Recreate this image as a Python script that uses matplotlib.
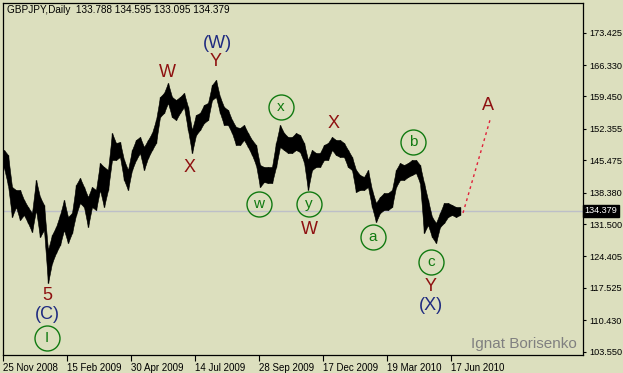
import matplotlib
matplotlib.use("Agg")
import matplotlib.pyplot as plt
import numpy as np

# ---- data (bar groups, ~3.5 daily bars each) ----
highs = [147.73, 146.64, 139.62, 138.97, 138.97, 136.78, 135.24, 133.93, 141.16, 137.43,
         135.68, 125.82, 129.11, 130.86, 133.49, 136.78, 133.05, 133.93, 140.06, 141.60,
         139.62, 137.43, 139.62, 138.97, 144.88, 144.01, 143.35, 151.45, 149.26, 149.48,
         145.54, 143.35, 147.73, 149.92, 150.58, 148.39, 149.92, 151.45, 154.30, 159.34,
         160.22, 162.41, 159.34, 158.68, 159.34, 160.22, 157.15, 152.11, 155.40, 155.84,
         157.59, 158.03, 161.97, 163.07, 159.34, 157.15, 156.49, 154.30, 152.77, 152.55,
         153.21, 151.45, 149.92, 148.83, 144.44, 144.01, 144.01, 144.01, 149.26, 153.21,
         151.45, 150.58, 150.58, 151.45, 151.02, 149.26, 145.54, 147.73, 147.07, 147.07,
         148.83, 149.26, 150.58, 149.92, 149.92, 149.26, 147.73, 146.20, 143.35, 142.25,
         141.82, 143.35, 138.97, 136.12, 137.43, 138.31, 138.31, 138.97, 143.35, 144.88,
         144.44, 144.88, 145.54, 145.54, 144.44, 140.50, 136.78, 133.05, 131.74, 133.93,
         136.12, 136.12, 135.68, 135.24, 135.24]
lows = [143.79, 140.06, 133.05, 135.24, 132.40, 133.49, 131.74, 129.77, 134.59, 128.67,
        130.20, 118.59, 122.98, 125.17, 126.92, 130.20, 127.36, 129.55, 133.49, 136.12,
        135.24, 130.86, 135.24, 134.59, 138.97, 135.24, 138.97, 145.54, 145.54, 146.20,
        141.16, 138.97, 143.35, 145.54, 147.07, 143.35, 145.98, 147.73, 149.26, 154.96,
        155.84, 158.03, 154.96, 154.30, 155.84, 157.15, 152.11, 147.07, 151.02, 152.11,
        153.64, 154.30, 158.68, 159.34, 155.84, 153.21, 153.21, 151.45, 148.83, 148.83,
        149.92, 148.39, 146.64, 144.44, 139.62, 140.72, 140.50, 140.50, 144.01, 148.39,
        147.73, 147.07, 147.07, 147.73, 147.29, 145.10, 138.97, 143.35, 144.01, 144.01,
        145.54, 145.54, 147.73, 146.64, 146.20, 146.20, 144.01, 143.35, 138.53, 138.97,
        138.97, 139.62, 135.24, 131.96, 133.93, 134.59, 134.59, 135.24, 139.62, 141.16,
        141.16, 141.82, 142.25, 142.69, 140.50, 129.55, 131.30, 128.67, 127.36, 130.86,
        131.74, 133.05, 133.49, 133.05, 133.49]

last_price = 134.379
title_text = "GBPJPY,Daily  133.788 134.595 133.095 134.379"
price_ticks = [173.425, 166.330, 159.450, 152.355, 145.475, 138.380, 131.500,
               124.405, 117.525, 110.430, 103.550]
date_labels = ["25 Nov 2008", "15 Feb 2009", "30 Apr 2009", "14 Jul 2009",
               "28 Sep 2009", "17 Dec 2009", "19 Mar 2010", "17 Jun 2010"]
date_pos = [-0.25, 15.75, 31.75, 47.75, 63.75, 79.75, 95.75, 111.75]

forecast_x = [114.75, 121.5]
forecast_y = [133.93, 154.30]

# wave labels: (text, x, y, kind)  kind: r=red, b=blue, c=circled green
wave_labels = [
    ("W", 40.75, 164.60, "r"), ("(W)", 53.25, 170.95, "b"), ("Y", 53.0, 167.01, "r"),
    ("X", 46.5, 143.79, "r"), ("x", 69.25, 157.15, "c"), ("X", 82.5, 153.43, "r"),
    ("b", 102.25, 149.48, "c"), ("w", 63.75, 135.90, "c"), ("y", 76.25, 135.90, "c"),
    ("W", 76.25, 130.42, "r"), ("a", 92.25, 128.67, "c"), ("c", 106.75, 123.20, "c"),
    ("Y", 106.75, 117.72, "r"), ("(X)", 106.75, 113.56, "b"), ("5", 10.75, 115.75, "r"),
    ("(C)", 10.75, 111.59, "b"), ("I", 10.75, 106.55, "c"), ("A", 121.0, 157.37, "r"),
]

BG = "#DCDFBE"
RED = "#8E1010"
BLUE = "#1E2A80"
GREEN = "#117A11"

W, H = 623, 373
fig = plt.figure(figsize=(W / 100, H / 100), dpi=100, facecolor=BG)
ax = fig.add_axes([3 / W, (H - 355) / H, 580 / W, 352 / H], facecolor=BG)

x = np.arange(len(highs))
ax.fill_between(x, lows, highs, color="black", lw=0.4)
ax.vlines(x, lows, highs, color="black", lw=1.0)

ax.axhline(last_price, color="#BDBFC8", lw=1.0, zorder=0)
ax.plot(forecast_x, forecast_y, color="#E0203A", lw=1.0, ls=(0, (2, 2.5)))

for txt, lx, ly, kind in wave_labels:
    if kind == "c":
        ax.plot([lx], [ly], marker="o", ms=18, mfc="none", mec=GREEN, mew=1.0)
        ax.text(lx, ly, txt, color=GREEN, fontsize=11, ha="center", va="center",
                family="Liberation Sans")
    else:
        ax.text(lx, ly, txt, color=RED if kind == "r" else BLUE, fontsize=13,
                ha="center", va="center", family="Liberation Sans")

ax.set_xlim(-0.25, 144.75)
ax.set_ylim(102.82, 179.93)

ax.yaxis.tick_right()
ax.set_yticks(price_ticks)
ax.set_yticklabels([f"{v:.3f}" for v in price_ticks], family="Liberation Sans")
ax.tick_params(axis="y", direction="out", length=2, width=0.8, pad=2.5,
               labelsize=6.6, colors="black")
ax.set_xticks(date_pos)
ax.set_xticklabels(date_labels, family="Liberation Sans")
for lab in ax.get_xticklabels():
    lab.set_horizontalalignment("left")
ax.tick_params(axis="x", direction="out", length=4, width=0.8, pad=1.5,
               labelsize=7)
for s in ax.spines.values():
    s.set_color("black")
    s.set_linewidth(0.9)

ax.text(1.003, last_price, f"{last_price:.3f}", transform=ax.get_yaxis_transform(),
        color="white", fontsize=6.6, va="center", ha="left", family="Liberation Sans",
        bbox=dict(boxstyle="square,pad=0.15", fc="black", ec="black"))

fig.text(7 / W, 1 - 10 / H, title_text, fontsize=7.2, va="center", ha="left",
         family="Liberation Sans")
ax.text(0.99, 0.01, "Ignat Borisenko", transform=ax.transAxes, color="#808080",
        fontsize=11, ha="right", va="bottom", family="Liberation Sans")

fig.savefig("out.png", dpi=100, facecolor=BG)
